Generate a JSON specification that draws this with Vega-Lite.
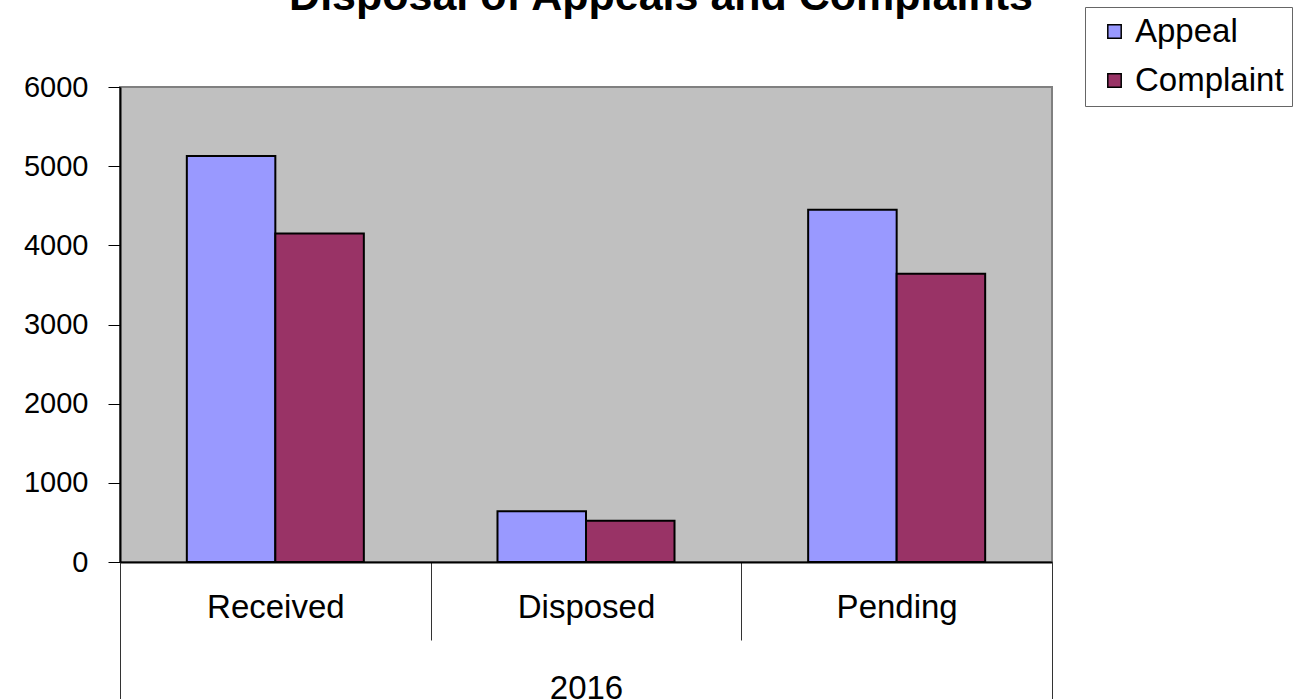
{
  "$schema": "https://vega.github.io/schema/vega-lite/v6.json",
  "width": 932,
  "height": 475,
  "autosize": {"type": "none"},
  "padding": {"left": 120, "top": 87, "right": 257, "bottom": 137},
  "background": "white",
  "title": {
    "text": "Disposal of Appeals and Complaints",
    "font": "Liberation Sans",
    "fontSize": 43,
    "fontWeight": "bold",
    "color": "black",
    "anchor": "middle",
    "frame": "group",
    "dx": 75,
    "offset": -12
  },
  "data": {
    "values": [
      {"status": "Received", "type": "Appeal", "value": 5130, "year": "2016"},
      {"status": "Received", "type": "Complaint", "value": 4150, "year": "2016"},
      {"status": "Disposed", "type": "Appeal", "value": 640, "year": "2016"},
      {"status": "Disposed", "type": "Complaint", "value": 520, "year": "2016"},
      {"status": "Pending", "type": "Appeal", "value": 4450, "year": "2016"},
      {"status": "Pending", "type": "Complaint", "value": 3640, "year": "2016"}
    ]
  },
  "config": {
    "view": {"fill": "#C0C0C0", "stroke": "#808080", "strokeWidth": 2},
    "axis": {"labelFont": "Liberation Sans", "labelColor": "black", "domainColor": "black", "tickColor": "black"},
    "legend": {"strokeColor": "#666666", "fillColor": "white"}
  },
  "layer": [
    {
      "mark": {"type": "bar", "stroke": "black", "strokeWidth": 2},
      "encoding": {
        "x": {
          "field": "status",
          "type": "nominal",
          "sort": ["Received", "Disposed", "Pending"],
          "scale": {"paddingInner": 0, "paddingOuter": 0},
          "axis": {
            "title": null,
            "labelAngle": 0,
            "labelFontSize": 33,
            "tickBand": "extent",
            "tickSize": 78,
            "tickWidth": 1,
            "tickColor": "#333333",
            "domainWidth": 2,
            "labelPadding": -49
          }
        },
        "xOffset": {
          "field": "type",
          "type": "nominal",
          "scale": {"paddingInner": 0, "paddingOuter": 0.755}
        },
        "y": {
          "field": "value",
          "type": "quantitative",
          "scale": {"domain": [0, 6000], "nice": false},
          "axis": {
            "title": null,
            "values": [0, 1000, 2000, 3000, 4000, 5000, 6000],
            "format": "d",
            "grid": false,
            "tickSize": 12,
            "labelPadding": 20,
            "labelFontSize": 29,
            "domainWidth": 2
          }
        },
        "color": {
          "field": "type",
          "type": "nominal",
          "scale": {"domain": ["Appeal", "Complaint"], "range": ["#9999FF", "#993366"]},
          "legend": {
            "title": null,
            "orient": "none",
            "legendX": 965,
            "legendY": -80,
            "labelFont": "Liberation Sans",
            "labelFontSize": 33,
            "labelColor": "black",
            "symbolType": "square",
            "symbolSize": 180,
            "symbolStrokeColor": "black",
            "symbolStrokeWidth": 1.5,
            "symbolOpacity": 1,
            "symbolOffset": 5,
            "labelOffset": 4,
            "rowPadding": 15,
            "padding": 8
          }
        }
      }
    },
    {
      "mark": {"type": "bar", "opacity": 0},
      "encoding": {
        "x": {
          "field": "year",
          "type": "nominal",
          "scale": {"paddingInner": 0, "paddingOuter": 0},
          "axis": {
            "title": null,
            "orient": "bottom",
            "labelAngle": 0,
            "labelFontSize": 33,
            "tickBand": "extent",
            "tickSize": 137,
            "tickWidth": 1,
            "tickColor": "#333333",
            "domain": false,
            "labelPadding": -27
          }
        }
      }
    }
  ],
  "resolve": {"scale": {"x": "independent"}, "axis": {"x": "independent"}}
}
